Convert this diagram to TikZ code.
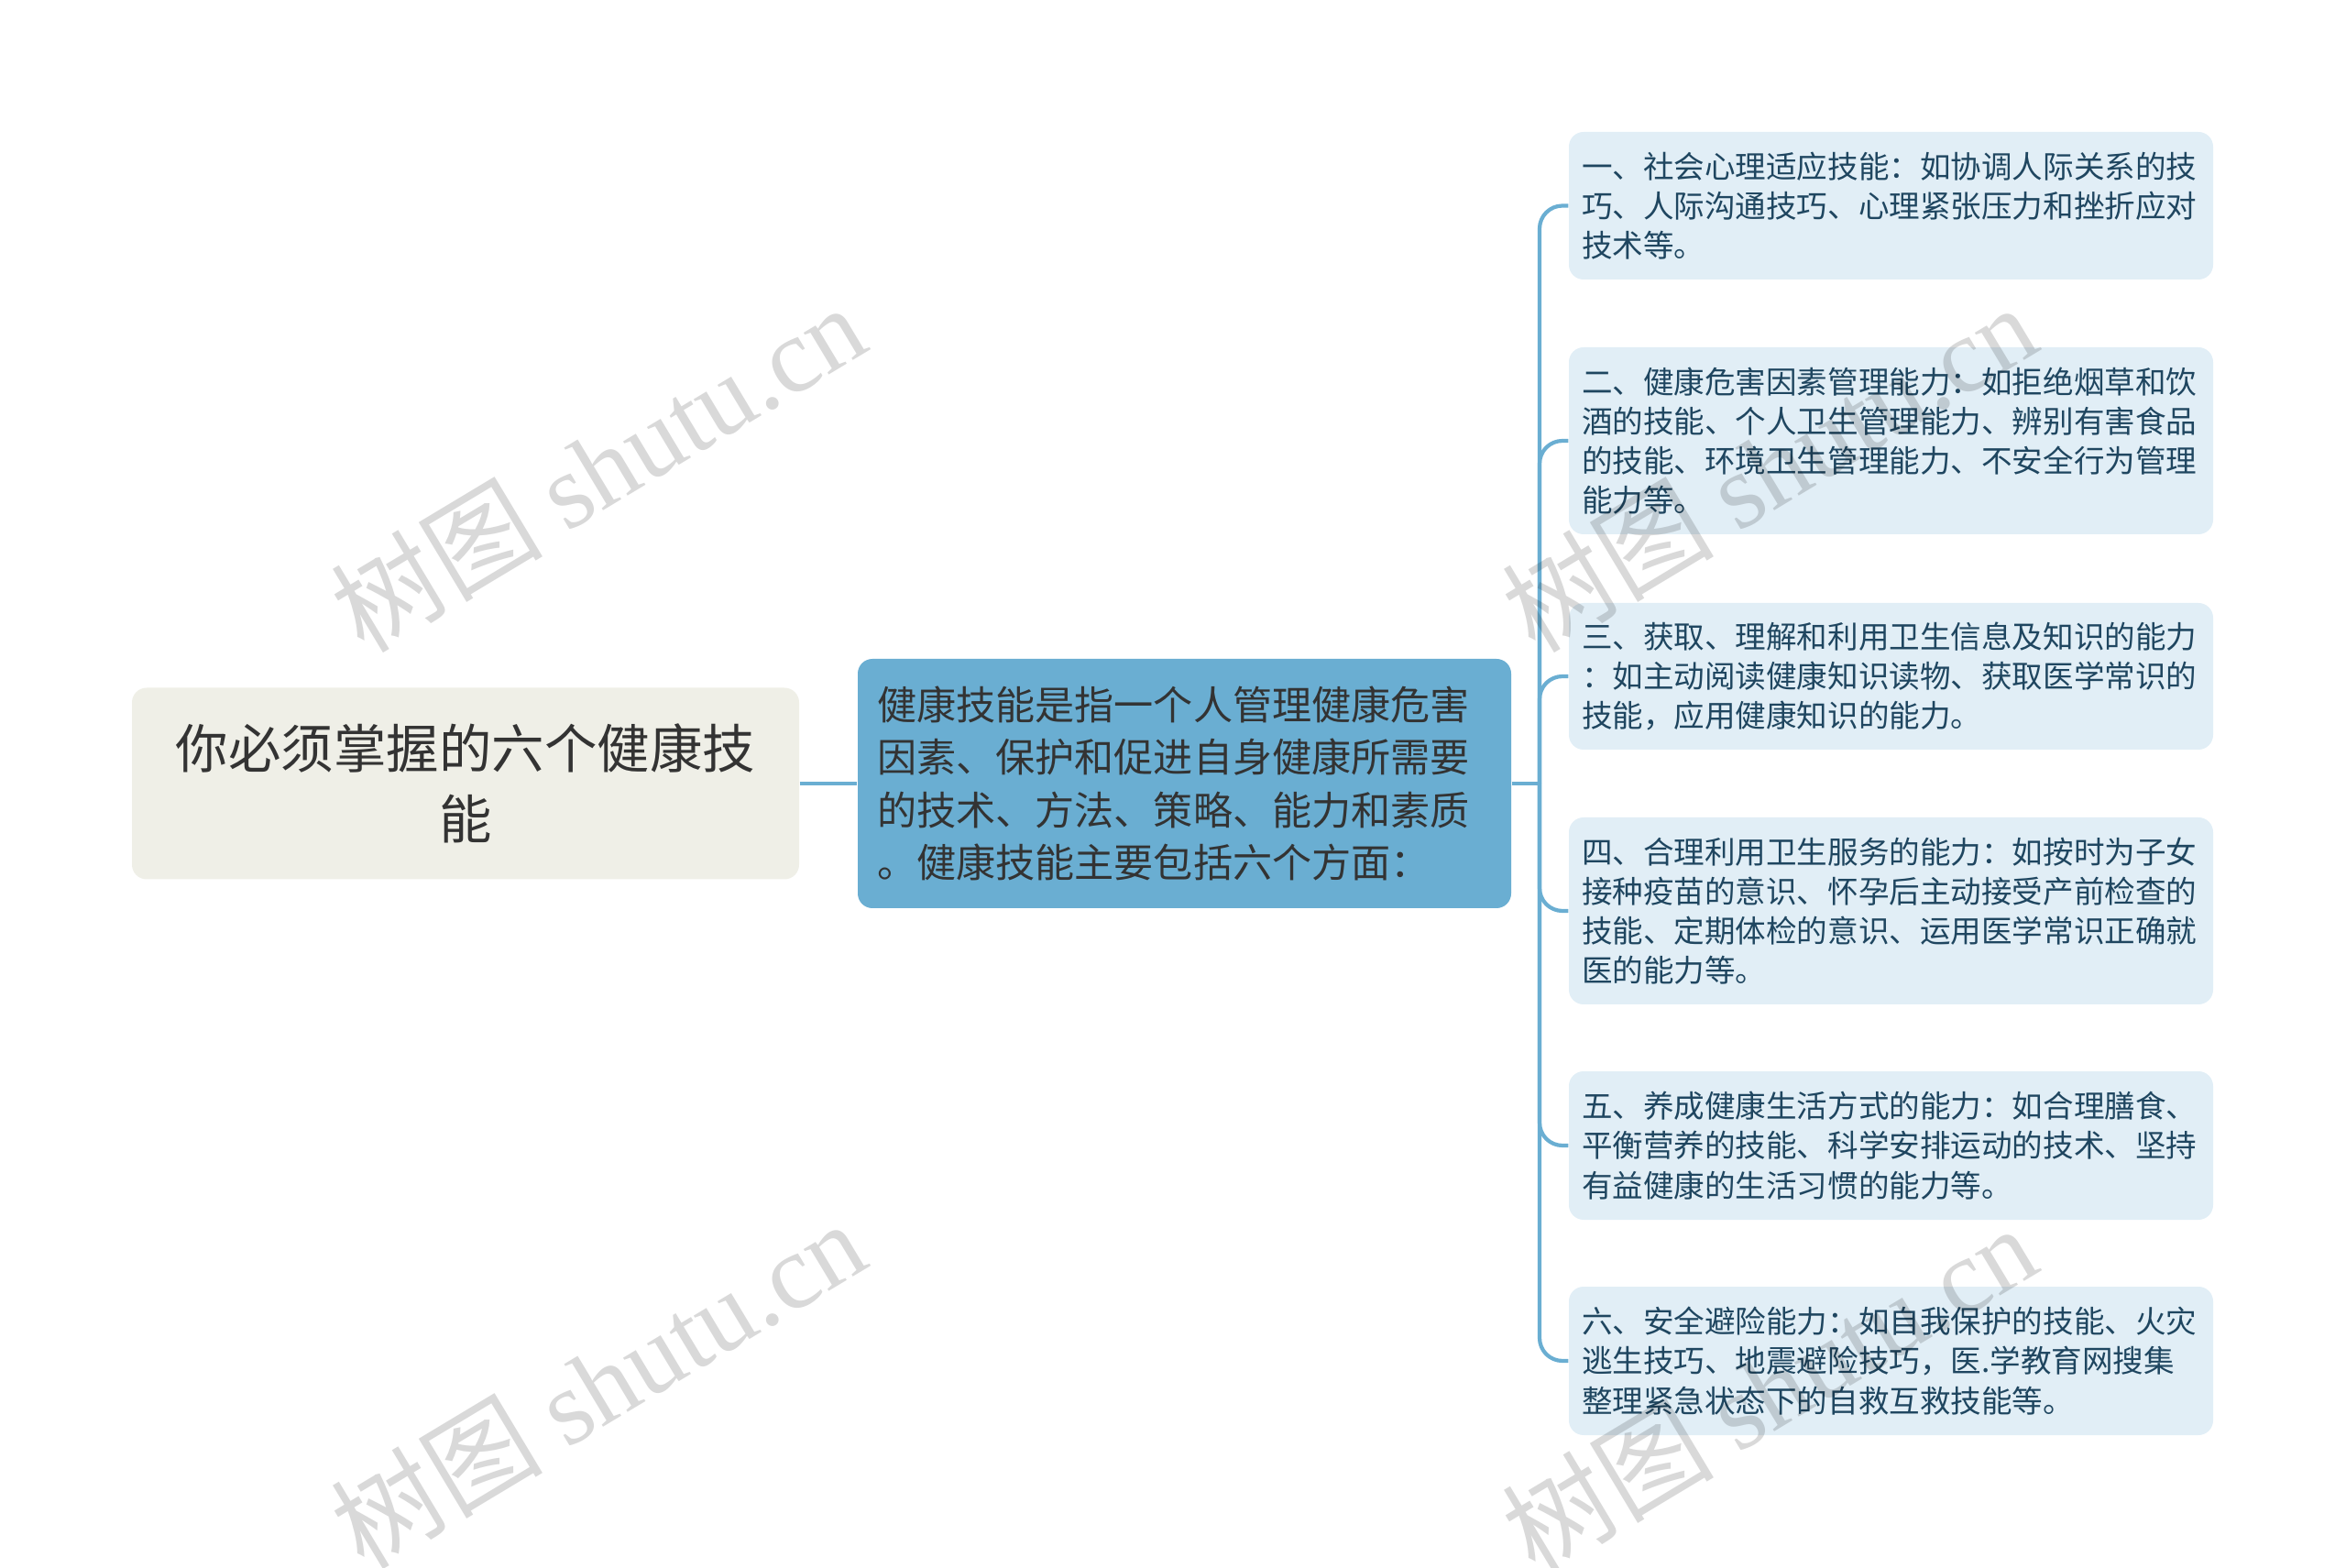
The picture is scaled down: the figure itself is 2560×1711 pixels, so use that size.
\documentclass[tikz,border=0pt]{standalone}
\usepackage{fontspec}
\setmainfont{Noto Sans CJK SC}
\newfontfamily\wmfont{Liberation Serif}
\definecolor{root_fill}{HTML}{EFEFE7}
\definecolor{main_blue}{HTML}{6AAED2}
\definecolor{leaf_fill}{HTML}{E1EEF6}
\definecolor{leaf_text}{HTML}{1F4660}
\definecolor{dark_text}{HTML}{333333}

\begin{document}
\begin{tikzpicture}[x=0.1mm, y=-0.1mm,
  rootbox/.style={fill=root_fill, rounded corners=1.6mm, minimum width=72.8mm, minimum height=20.9mm, align=center, text=dark_text, font=\fontsize{16.35}{21.8}\selectfont},
  mainbox/.style={fill=main_blue, rounded corners=1.6mm, text width=67.1mm, inner xsep=2.1mm, minimum height=27.2mm, align=left, text=dark_text, font=\fontsize{12.27}{16.3}\selectfont},
  leafbox/.style={fill=leaf_fill, rounded corners=1.6mm, text width=67.5mm, inner xsep=1.4mm, align=left, text=leaf_text, font=\fontsize{9.55}{12.3}\selectfont},
  link/.style={draw=main_blue, line width=1.2pt},
  watermark/.style={text=black, text opacity=0.15, rotate=31, font=\fontsize{33}{33}\selectfont}]
   \useasboundingbox (0,0) rectangle (2560,1711);
   % root and main text
   \node [rootbox] (root) at (508,855) {你必须掌握的六个健康技\\能};
   \node [mainbox] (main) at (1292.5,855) {健康技能是指一个人管理健康危害\\
      因素、保护和促进自身健康所需要\\
      的技术、方法、策略、能力和素质\\
      。健康技能主要包括六个方面：};
   % six skills
   \node [leafbox, minimum height=16.1mm] (leaf1) at (2063.5,224.5) {一、社会心理适应技能：如协调人际关系的技\\
      巧、人际沟通技巧、心理紧张压力和挫折应对\\
      技术等。};
   \node [leafbox, minimum height=20.4mm] (leaf2) at (2063.5,481) {二、健康危害因素管理能力：如拒绝烟草和饮\\
      酒的技能、个人卫生管理能力、辨别有害食品\\
      的技能、环境卫生管理能力、不安全行为管理\\
      能力等。};
   \node [leafbox, minimum height=16.0mm] (leaf3) at (2063.5,738) {三、获取、理解和利用卫生信息及知识的能力\\
      ：如主动阅读健康知识读物、获取医学常识的\\
      技能，应用健康知识的能力。};
   \node [leafbox, minimum height=20.4mm] (leaf4) at (2063.5,994) {四、合理利用卫生服务的能力：如按时为子女\\
      接种疫苗的意识、怀孕后主动接受产前检查的\\
      技能、定期体检的意识、运用医学常识正确就\\
      医的能力等。};
   \node [leafbox, minimum height=16.2mm] (leaf5) at (2063.5,1250) {五、养成健康生活方式的能力：如合理膳食、\\
      平衡营养的技能、科学安排运动的技术、坚持\\
      有益健康的生活习惯的能力等。};
   \node [leafbox, minimum height=16.2mm] (leaf6) at (2063.5,1485) {六、安全避险能力：如自我保护的技能、火灾\\
      逃生技巧、地震避险技巧，医.学教育网搜集\\
      整理紧急状态下的自救互救技能等。};
   % connect the boxes
   \coordinate (hub) at (1680,855);
   \draw [link] (root.east) -- (main.west);
   \draw [link] (main.east) -- (hub);
   \foreach \n in {1,...,6}
      \draw [link, rounded corners=2.5mm] (hub) |- (leaf\n.west);
   % watermarks
   \node [watermark] (wm1) at (652,510) {树图 {\wmfont shutu.cn}};
   \node [watermark] (wm2) at (652,1510) {树图 {\wmfont shutu.cn}};
   \node [watermark] (wm3) at (1930,510) {树图 {\wmfont shutu.cn}};
   \node [watermark] (wm4) at (1930,1515) {树图 {\wmfont shutu.cn}};
\end{tikzpicture}
\end{document}
